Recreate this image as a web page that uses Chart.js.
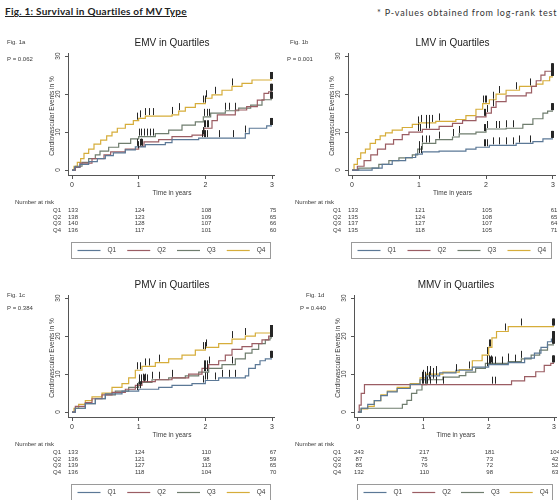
<!DOCTYPE html>
<html>
<head>
<meta charset="utf-8">
<script src="https://cdn.jsdelivr.net/npm/chart.js@4"></script>
<style>
  html, body { margin: 0; padding: 0; background: #fff; }
  body { width: 559px; height: 500px; position: relative; overflow: hidden; }
  #fig-title { position: absolute; left: 5px; top: 5px; font: bold 10px Lato, "Liberation Sans", sans-serif; letter-spacing: 0.25px; color: #222; text-decoration: underline; white-space: nowrap; }
  #fig-note { position: absolute; left: 377px; top: 7px; font: 9px Lato, "Liberation Sans", sans-serif; letter-spacing: 0.8px; color: #333; white-space: nowrap; }
  canvas { position: absolute; }
</style>
</head>
<body>
<div id="fig-title">Fig. 1: Survival in Quartiles of MV Type</div>
<div id="fig-note">* P-values obtained from log-rank test</div>
<canvas id="chart-a" width="280" height="262"></canvas>
<canvas id="chart-b" width="280" height="262"></canvas>
<canvas id="chart-c" width="280" height="262"></canvas>
<canvas id="chart-d" width="280" height="262"></canvas>
<script>
const FONT = '"Liberation Sans", Arial, sans-serif';
const quartiles = ['Q1', 'Q2', 'Q3', 'Q4'];
const quartileColors = ['#5b7896', '#9b5d63', '#6f7d6e', '#d6ad3a'];
const xTicks = [0, 1, 2, 3];
const yTicks = [0, 10, 20, 30];
const riskTimes = [0, 1, 2, 3];

// cumulative events in %, steps as [time, value]
const emvQ1 = [[0, 0], [0.04, 0.8], [0.12, 1.5], [0.25, 2.2], [0.38, 3], [0.5, 3.8], [0.62, 4.5], [0.8, 5.3], [0.95, 6.1], [1.1, 6.7], [1.4, 7.2], [1.5, 8], [1.9, 8.4], [2.6, 9.6], [2.66, 11], [2.92, 11.6], [3, 11.6]];
const emvQ2 = [[0, 0], [0.05, 0.7], [0.12, 1.8], [0.3, 3], [0.48, 4], [0.58, 4.8], [0.8, 5.5], [1, 6.2], [1.08, 7.4], [1.3, 8], [1.5, 8.8], [1.8, 9.2], [1.98, 11], [2.1, 13], [2.18, 14.5], [2.45, 15.8], [2.62, 16.7], [2.78, 18.4], [2.88, 20.2], [2.95, 20.6], [3, 20.6]];
const emvQ3 = [[0, 0], [0.05, 1], [0.15, 2], [0.25, 3], [0.35, 4], [0.42, 5], [0.55, 6], [0.7, 7], [0.88, 8.2], [1, 8.8], [1.25, 9.6], [1.45, 10.5], [1.65, 11.8], [1.85, 12.7], [1.97, 14], [2.08, 15], [2.3, 15.6], [2.5, 16.3], [2.68, 17.1], [2.85, 18.5], [3, 18.5]];
const emvQ4 = [[0, 0], [0.03, 1], [0.08, 2], [0.13, 3], [0.18, 4.4], [0.25, 5.5], [0.33, 6.8], [0.43, 7.9], [0.52, 9], [0.6, 10], [0.68, 11], [0.8, 12], [0.92, 13], [1, 13.6], [1.1, 14.2], [1.5, 14.5], [1.6, 15.5], [1.7, 16.5], [1.85, 17.5], [2, 18.9], [2.1, 19.8], [2.25, 21], [2.4, 22], [2.55, 22.8], [2.7, 23.7], [3, 23.7]];
const emvCensor = [
  [0.98, 1.02, 1.05, 1.95, 1.98, 2.0, 2.02, 2.2, 2.42, 2.6, 2.97, 2.98, 2.99, 3.0],
  [0.99, 1.03, 1.96, 1.98, 2.0, 2.02, 2.04, 2.97, 2.98, 2.99, 3.0],
  [1.0, 1.04, 1.08, 1.12, 1.17, 1.22, 1.98, 2.02, 2.05, 2.3, 2.35, 2.45, 2.97, 2.98, 2.99, 3.0],
  [0.98, 1.02, 1.1, 1.16, 1.22, 1.5, 1.6, 1.97, 1.99, 2.01, 2.15, 2.4, 2.97, 2.98, 2.99, 3.0],
];
const emvRisk = [[133, 124, 108, 75], [138, 123, 109, 65], [140, 128, 107, 66], [136, 117, 101, 60]];

const lmvQ1 = [[0, 0], [0.3, 0.5], [0.45, 1.5], [0.6, 2.5], [0.8, 3.3], [0.95, 4.2], [1.05, 4.8], [1.3, 5], [1.7, 5.5], [1.85, 6], [2.05, 6.5], [2.45, 7], [2.7, 7.5], [2.85, 8.2], [3, 8.2]];
const lmvQ2 = [[0, 0], [0.08, 1], [0.18, 2.5], [0.28, 4], [0.38, 5.5], [0.5, 6.8], [0.62, 8], [0.75, 9.3], [0.85, 10], [1.05, 10.7], [1.3, 11.5], [1.5, 12.3], [1.65, 13], [1.85, 14], [2, 15], [2.08, 16.5], [2.15, 18], [2.3, 19.5], [2.6, 20.3], [2.68, 22], [2.75, 23.5], [2.82, 25], [2.88, 26], [3, 26]];
const lmvQ3 = [[0, 0], [0.1, 0.5], [0.4, 1.5], [0.55, 2.5], [0.7, 3.2], [0.9, 4], [0.98, 5.5], [1.05, 7], [1.25, 8], [1.5, 8.7], [1.6, 9.5], [1.85, 10], [2, 10.8], [2.3, 11], [2.55, 12], [2.7, 13.5], [2.85, 15], [2.92, 15.5], [3, 15.5]];
const lmvQ4 = [[0, 0], [0.03, 1.5], [0.08, 3], [0.13, 4.5], [0.2, 5.5], [0.27, 7], [0.35, 8], [0.42, 9], [0.5, 9.8], [0.6, 10.5], [0.75, 11.2], [0.9, 12], [1, 12.4], [1.25, 12.8], [1.55, 13.3], [1.7, 14.3], [1.85, 16], [1.95, 17.5], [2.05, 18.5], [2.15, 20], [2.3, 21], [2.5, 22], [2.75, 22.6], [2.85, 23.5], [2.95, 24.5], [3, 24.5]];
const lmvCensor = [
  [1.0, 1.03, 1.97, 1.99, 2.01, 2.1, 2.2, 2.3, 2.4, 2.5, 2.65, 2.97, 2.98, 2.99, 3.0],
  [0.98, 1.02, 1.1, 1.15, 1.97, 1.99, 2.02, 2.1, 2.97, 2.98, 2.99, 3.0],
  [1.0, 1.05, 1.1, 1.15, 1.3, 1.5, 1.6, 1.97, 1.99, 2.01, 2.15, 2.2, 2.3, 2.4, 2.97, 2.98, 2.99, 3.0],
  [0.98, 1.03, 1.1, 1.15, 1.2, 1.3, 1.96, 1.98, 2.0, 2.1, 2.2, 2.45, 2.65, 2.97, 2.98, 2.99, 3.0],
];
const lmvRisk = [[133, 121, 105, 61], [135, 124, 108, 65], [137, 127, 107, 64], [135, 118, 105, 71]];

const pmvQ1 = [[0, 0], [0.05, 1], [0.2, 2.2], [0.35, 3.5], [0.5, 4.8], [0.75, 5.5], [1, 6], [1.3, 6.5], [1.5, 7], [1.8, 7.5], [2, 8.3], [2.2, 9], [2.6, 9.5], [2.65, 11.5], [2.75, 12.5], [2.82, 13.5], [2.9, 14], [3, 14]];
const pmvQ2 = [[0, 0], [0.05, 1.5], [0.2, 2.5], [0.3, 3.5], [0.45, 4.5], [0.6, 5.2], [0.8, 6], [0.95, 7], [1.05, 8], [1.25, 8.5], [1.5, 9], [1.75, 10], [1.95, 11.5], [2.05, 12.5], [2.2, 13.5], [2.3, 15], [2.4, 16.5], [2.55, 17.2], [2.7, 18], [2.85, 19], [2.95, 20], [3, 20]];
const pmvQ3 = [[0, 0], [0.05, 1], [0.2, 2.2], [0.35, 3.5], [0.5, 4.5], [0.65, 5.5], [0.85, 6.5], [1, 7.8], [1.2, 8.5], [1.45, 9], [1.7, 9.5], [1.9, 10.5], [2.05, 11.5], [2.25, 12.5], [2.45, 14], [2.6, 15.5], [2.7, 16.5], [2.8, 18], [2.9, 19], [2.97, 19.5], [3, 19.5]];
const pmvQ4 = [[0, 0], [0.03, 1], [0.1, 2], [0.2, 3], [0.3, 4], [0.45, 5], [0.6, 6.5], [0.75, 7.5], [0.85, 9], [0.95, 11], [1.05, 12], [1.25, 13], [1.45, 14], [1.65, 15], [1.85, 16.3], [2, 17], [2.2, 18], [2.4, 19.2], [2.6, 20], [2.75, 20.8], [3, 20.8]];
const pmvCensor = [
  [0.98, 1.02, 1.97, 2.0, 2.03, 2.15, 2.25, 2.35, 2.45, 2.97, 2.98, 2.99, 3.0],
  [1.0, 1.03, 1.07, 1.1, 1.3, 1.5, 1.98, 2.0, 2.02, 2.05, 2.97, 2.98, 2.99, 3.0],
  [1.0, 1.04, 1.08, 1.12, 1.2, 1.98, 2.0, 2.03, 2.4, 2.97, 2.98, 2.99, 3.0],
  [0.98, 1.02, 1.1, 1.15, 1.3, 1.97, 1.99, 2.01, 2.4, 2.6, 2.97, 2.98, 2.99, 3.0],
];
const pmvRisk = [[133, 124, 110, 67], [136, 121, 98, 59], [139, 127, 113, 65], [136, 118, 104, 70]];

const mmvQ1 = [[0, 0], [0.05, 1], [0.15, 2], [0.25, 3], [0.35, 4.3], [0.45, 5.3], [0.6, 6.2], [0.8, 7.3], [0.95, 8.5], [1.05, 9.5], [1.25, 10.3], [1.5, 11], [1.75, 11.8], [2, 12.5], [2.3, 13], [2.55, 14.2], [2.7, 15.5], [2.8, 17], [2.9, 18.5], [2.96, 19.2], [3, 19.2]];
const mmvQ2 = [[0, 0], [0.02, 1.8], [0.05, 4.9], [0.1, 7.2], [2.35, 8.2], [2.55, 9.3], [2.72, 10.6], [2.85, 12.3], [2.95, 12.8], [3, 12.8]];
const mmvQ3 = [[0, 0], [0.05, 1], [0.68, 2], [0.75, 3.1], [0.82, 4.9], [0.9, 5.8], [0.98, 7.2], [1.05, 8.5], [1.3, 9.2], [1.55, 9.6], [1.65, 10.5], [1.8, 11.5], [1.95, 12.8], [2.3, 13.3], [2.5, 14], [2.65, 15], [2.78, 16.3], [2.9, 17.7], [3, 17.7]];
const mmvQ4 = [[0, 0], [0.05, 0.8], [0.15, 1.5], [0.25, 3], [0.35, 4.5], [0.45, 5.5], [0.6, 6.5], [0.8, 7.5], [0.95, 9], [1.05, 10], [1.3, 10.5], [1.55, 11.2], [1.75, 13.5], [1.9, 15], [2.0, 17], [2.05, 19.5], [2.12, 21.2], [2.3, 22.5], [3, 22.5]];
const mmvCensor = [
  [0.98, 1.0, 1.02, 1.05, 1.1, 1.15, 1.2, 1.98, 2.0, 2.02, 2.05, 2.1, 2.2, 2.3, 2.4, 2.97, 2.98, 2.99, 3.0],
  [1.0, 1.05, 1.1, 1.2, 1.3, 2.05, 2.1, 2.97, 2.98, 2.99, 3.0],
  [0.98, 1.02, 1.08, 1.15, 1.98, 2.0, 2.03, 2.3, 2.5, 2.97, 2.98, 2.99, 3.0],
  [1.0, 1.05, 1.1, 1.2, 1.5, 1.7, 1.98, 2.0, 2.02, 2.25, 2.5, 2.97, 2.98, 2.99, 3.0],
];
const mmvRisk = [[243, 217, 181, 104], [87, 75, 73, 42], [85, 76, 72, 52], [132, 110, 98, 63]];

function valueAt(points, t) {
  let v = 0;
  points.forEach((p) => {
    if (p.x <= t + 1e-9) v = p.y;
  });
  return v;
}

const kmPanelPlugin = {
  id: 'kmPanel',
  afterDatasetsDraw(chart) {
    const { ctx, scales: { x, y } } = chart;
    ctx.save();
    ctx.strokeStyle = '#262626';
    ctx.lineWidth = 1;
    chart.data.datasets.forEach((ds) => {
      (ds.censor || []).forEach((t) => {
        const px = Math.round(x.getPixelForValue(t)) + 0.5;
        const py = y.getPixelForValue(valueAt(ds.data, t));
        ctx.beginPath();
        ctx.moveTo(px, py - 1);
        ctx.lineTo(px, py - 8);
        ctx.stroke();
      });
    });
    ctx.restore();
  },
  afterDraw(chart, _args, o) {
    const { ctx, chartArea: a, scales: { x, y } } = chart;
    ctx.save();
    ctx.textBaseline = 'middle';
    ctx.fillStyle = '#3a3a3a';

    ctx.font = `6px ${FONT}`;
    ctx.textAlign = 'left';
    ctx.fillText(o.fig, o.figX, o.figY);
    ctx.fillText(o.pval, o.pX, o.pY);

    ctx.fillStyle = '#222';
    ctx.font = `10px ${FONT}`;
    ctx.textAlign = 'center';
    ctx.fillText(o.title, x.getPixelForValue(1.5), 43);

    ctx.fillStyle = '#3a3a3a';
    ctx.font = `6.5px ${FONT}`;
    yTicks.forEach((v) => {
      ctx.save();
      ctx.translate(a.left - 10, y.getPixelForValue(v));
      ctx.rotate(-Math.PI / 2);
      ctx.fillText(String(v), 0, 0);
      ctx.restore();
    });
    ctx.save();
    ctx.translate(a.left - 16, (y.getPixelForValue(0) + y.getPixelForValue(30)) / 2 + 3);
    ctx.rotate(-Math.PI / 2);
    ctx.fillText('Cardiovascular Events in %', 0, 0);
    ctx.restore();
    ctx.fillText('Time in years', x.getPixelForValue(1.5), a.bottom + 18);

    // number at risk
    ctx.font = `6px ${FONT}`;
    ctx.textAlign = 'left';
    ctx.fillText('Number at risk', 15, 202);
    o.risk.forEach((row, i) => {
      const ry = 210 + i * 6.9;
      ctx.textAlign = 'center';
      ctx.fillText(quartiles[i], 57, ry);
      row.forEach((n, j) => ctx.fillText(String(n), x.getPixelForValue(riskTimes[j]) + 1, ry));
    });

    // legend box
    const boxL = Math.round(x.getPixelForValue(0)) - 0.5;
    const boxR = Math.round(x.getPixelForValue(3)) - 1.5;
    ctx.strokeStyle = '#9a9a9a';
    ctx.lineWidth = 1;
    ctx.strokeRect(boxL, 242.5, boxR - boxL, 16);
    const step = (boxR - boxL) / 4;
    ctx.font = `6.5px ${FONT}`;
    ctx.textAlign = 'left';
    quartiles.forEach((q, i) => {
      const lx = boxL + 6 + i * step;
      ctx.strokeStyle = quartileColors[i];
      ctx.lineWidth = 1.2;
      ctx.beginPath();
      ctx.moveTo(lx, 250.5);
      ctx.lineTo(lx + 23, 250.5);
      ctx.stroke();
      ctx.fillText(q, lx + 30, 250.5);
    });
    ctx.restore();
  },
};

function makePanel(canvasId, left, top, cfg) {
  const canvas = document.getElementById(canvasId);
  canvas.style.left = `${left}px`;
  canvas.style.top = `${top}px`;
  const datasets = cfg.series.map((points, i) => ({
    label: quartiles[i],
    data: points.map(([t, v]) => ({ x: t, y: v })),
    censor: cfg.censor[i],
    borderColor: quartileColors[i],
    backgroundColor: quartileColors[i],
    borderWidth: 1.2,
    pointRadius: 0,
    stepped: 'before',
    fill: false,
  }));
  return new Chart(canvas.getContext('2d'), {
    type: 'line',
    data: { datasets },
    plugins: [kmPanelPlugin],
    options: {
      responsive: false,
      animation: false,
      devicePixelRatio: 1,
      layout: { padding: { top: 53, right: cfg.padRight, bottom: 62, left: 0 } },
      plugins: {
        legend: { display: false },
        tooltip: { enabled: false },
        kmPanel: {
          fig: cfg.fig, pval: cfg.pval, title: cfg.title, risk: cfg.risk,
          figX: cfg.figX, figY: cfg.figY, pX: cfg.pX, pY: cfg.pY,
        },
      },
      scales: {
        x: {
          type: 'linear',
          min: -0.06,
          max: 3.03,
          afterBuildTicks: (scale) => { scale.ticks = xTicks.map((v) => ({ value: v })); },
          afterFit: (scale) => { scale.height = 25; },
          grid: { drawOnChartArea: false, drawTicks: true, tickLength: 4, color: '#555' },
          border: { color: '#555', width: 1 },
          ticks: { font: { size: 7, family: FONT }, color: '#333', padding: 2, maxRotation: 0 },
        },
        y: {
          type: 'linear',
          min: -1.3,
          max: 30.8,
          afterBuildTicks: (scale) => { scale.ticks = yTicks.map((v) => ({ value: v })); },
          afterFit: (scale) => { scale.width = cfg.axisLeft; },
          grid: { drawOnChartArea: false, drawTicks: true, tickLength: 3, color: '#555' },
          border: { color: '#555', width: 1 },
          ticks: { display: false },
        },
      },
    },
  });
}

makePanel('chart-a', 0, 0, {
  fig: 'Fig. 1a', pval: 'P = 0.062', title: 'EMV in Quartiles',
  series: [emvQ1, emvQ2, emvQ3, emvQ4], censor: emvCensor, risk: emvRisk,
  axisLeft: 68, padRight: 6, figX: 7, figY: 42, pX: 7, pY: 59,
});
makePanel('chart-b', 280, 0, {
  fig: 'Fig. 1b', pval: 'P = 0.001', title: 'LMV in Quartiles',
  series: [lmvQ1, lmvQ2, lmvQ3, lmvQ4], censor: lmvCensor, risk: lmvRisk,
  axisLeft: 68, padRight: 5, figX: 10, figY: 42, pX: 7, pY: 59,
});
makePanel('chart-c', 0, 242, {
  fig: 'Fig. 1c', pval: 'P = 0.384', title: 'PMV in Quartiles',
  series: [pmvQ1, pmvQ2, pmvQ3, pmvQ4], censor: pmvCensor, risk: pmvRisk,
  axisLeft: 68, padRight: 6, figX: 7, figY: 53, pX: 7, pY: 66,
});
makePanel('chart-d', 280, 242, {
  fig: 'Fig. 1d', pval: 'P = 0.440', title: 'MMV in Quartiles',
  series: [mmvQ1, mmvQ2, mmvQ3, mmvQ4], censor: mmvCensor, risk: mmvRisk,
  axisLeft: 74, padRight: 4, figX: 26, figY: 53, pX: 20, pY: 66,
});
</script>
</body>
</html>
